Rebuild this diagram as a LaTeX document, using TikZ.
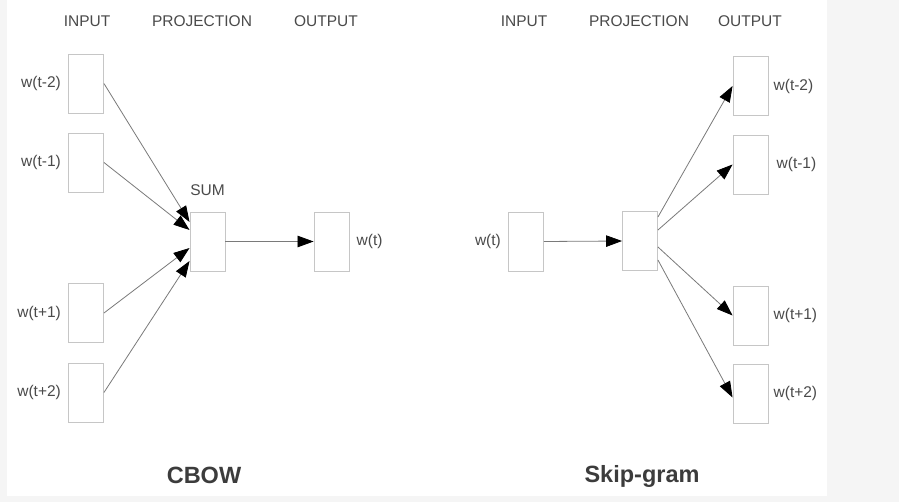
\documentclass[tikz,border=0pt]{standalone}
\usepackage{fontspec}
\setmainfont{Liberation Sans}
\usetikzlibrary{arrows.meta}
\definecolor{boxgray}{HTML}{C6C6C6}
\definecolor{linegray}{HTML}{7A7A7A}
\definecolor{txtgray}{HTML}{4A4A4A}
\definecolor{ttlgray}{HTML}{3C3C3C}
\definecolor{bggray}{HTML}{F5F5F5}
\tikzset{
  wbox/.style={draw=boxgray, line width=0.9pt, fill=white, minimum width=35pt, minimum height=59pt, inner sep=0pt},
  lbl/.style={text=txtgray, font=\fontsize{15.5}{18}\selectfont, inner sep=0pt},
  hdr/.style={text=txtgray, font=\fontsize{15.5}{18}\selectfont, inner sep=0pt},
  ttl/.style={text=ttlgray, font=\fontsize{23.5}{27}\selectfont\bfseries, inner sep=0pt},
  conn/.style={draw=linegray, line width=0.8pt, -{Triangle[length=16pt,width=11.5pt,color=black]}}
}
\begin{document}
\begin{tikzpicture}[x=1pt,y=-1pt]
\fill[bggray] (0,0) rectangle (899,502);
\fill[white] (7,0) rectangle (827,496);
\useasboundingbox (0,0) rectangle (899,502);

% ---------- CBOW ----------
\node[hdr] (h1) at (87,21) {INPUT};
\node[hdr] (h2) at (202,21) {PROJECTION};
\node[hdr] (h3) at (326,21) {OUTPUT};

\node[wbox, label={[lbl, label distance=7pt]left:w(t-2)}] (in1) at (86,83.5) {};
\node[wbox, label={[lbl, label distance=7pt]left:w(t-1)}] (in2) at (86,162.5) {};
\node[wbox, label={[lbl, label distance=7pt]left:w(t+1)}] (in3) at (86,313) {};
\node[wbox, label={[lbl, label distance=7pt]left:w(t+2)}] (in4) at (86,392.5) {};
\node[wbox, label={[lbl, label distance=16pt]above:SUM}] (sum) at (207.5,241.5) {};
\node[wbox, label={[lbl, label distance=7pt]right:w(t)}] (out) at (331.5,241.5) {};

\draw[conn] (in1.east) -- ([yshift=19.5pt]sum.west);
\draw[conn] (in2.east) -- ([yshift=11.5pt]sum.west);
\draw[conn] (in3.east) -- ([yshift=-6.5pt]sum.west);
\draw[conn] (in4.east) -- ([yshift=-19.5pt]sum.west);
\draw[conn] (sum.east) -- (out.west);

\node[ttl] (t1) at (204,475) {CBOW};

% ---------- Skip-gram ----------
\node[hdr] (h4) at (524,21) {INPUT};
\node[hdr] (h5) at (639,21) {PROJECTION};
\node[hdr] (h6) at (750,21) {OUTPUT};

\node[wbox, label={[lbl, label distance=7pt]left:w(t)}] (sin) at (526,241.5) {};
\node[wbox] (proj) at (640,241) {};
\node[wbox, label={[lbl, label distance=5pt]right:w(t-2)}] (o1) at (750.5,86) {};
\node[wbox, label={[lbl, label distance=8pt]right:w(t-1)}] (o2) at (750.5,164.5) {};
\node[wbox, label={[lbl, label distance=5pt]right:w(t+1)}] (o3) at (750.5,315.5) {};
\node[wbox, label={[lbl, label distance=5pt]right:w(t+2)}] (o4) at (750.5,393.5) {};

\draw[conn] (sin.east) -- (proj.west);
\draw[conn] ([yshift=24pt]proj.east) -- (o1.west);
\draw[conn] ([yshift=11pt]proj.east) -- (o2.west);
\draw[conn] ([yshift=-6pt]proj.east) -- (o3.west);
\draw[conn] ([yshift=-19pt]proj.east) -- ([yshift=-4pt]o4.west);

\node[ttl] (t2) at (642,476) {Skip-gram};
\end{tikzpicture}
\end{document}
